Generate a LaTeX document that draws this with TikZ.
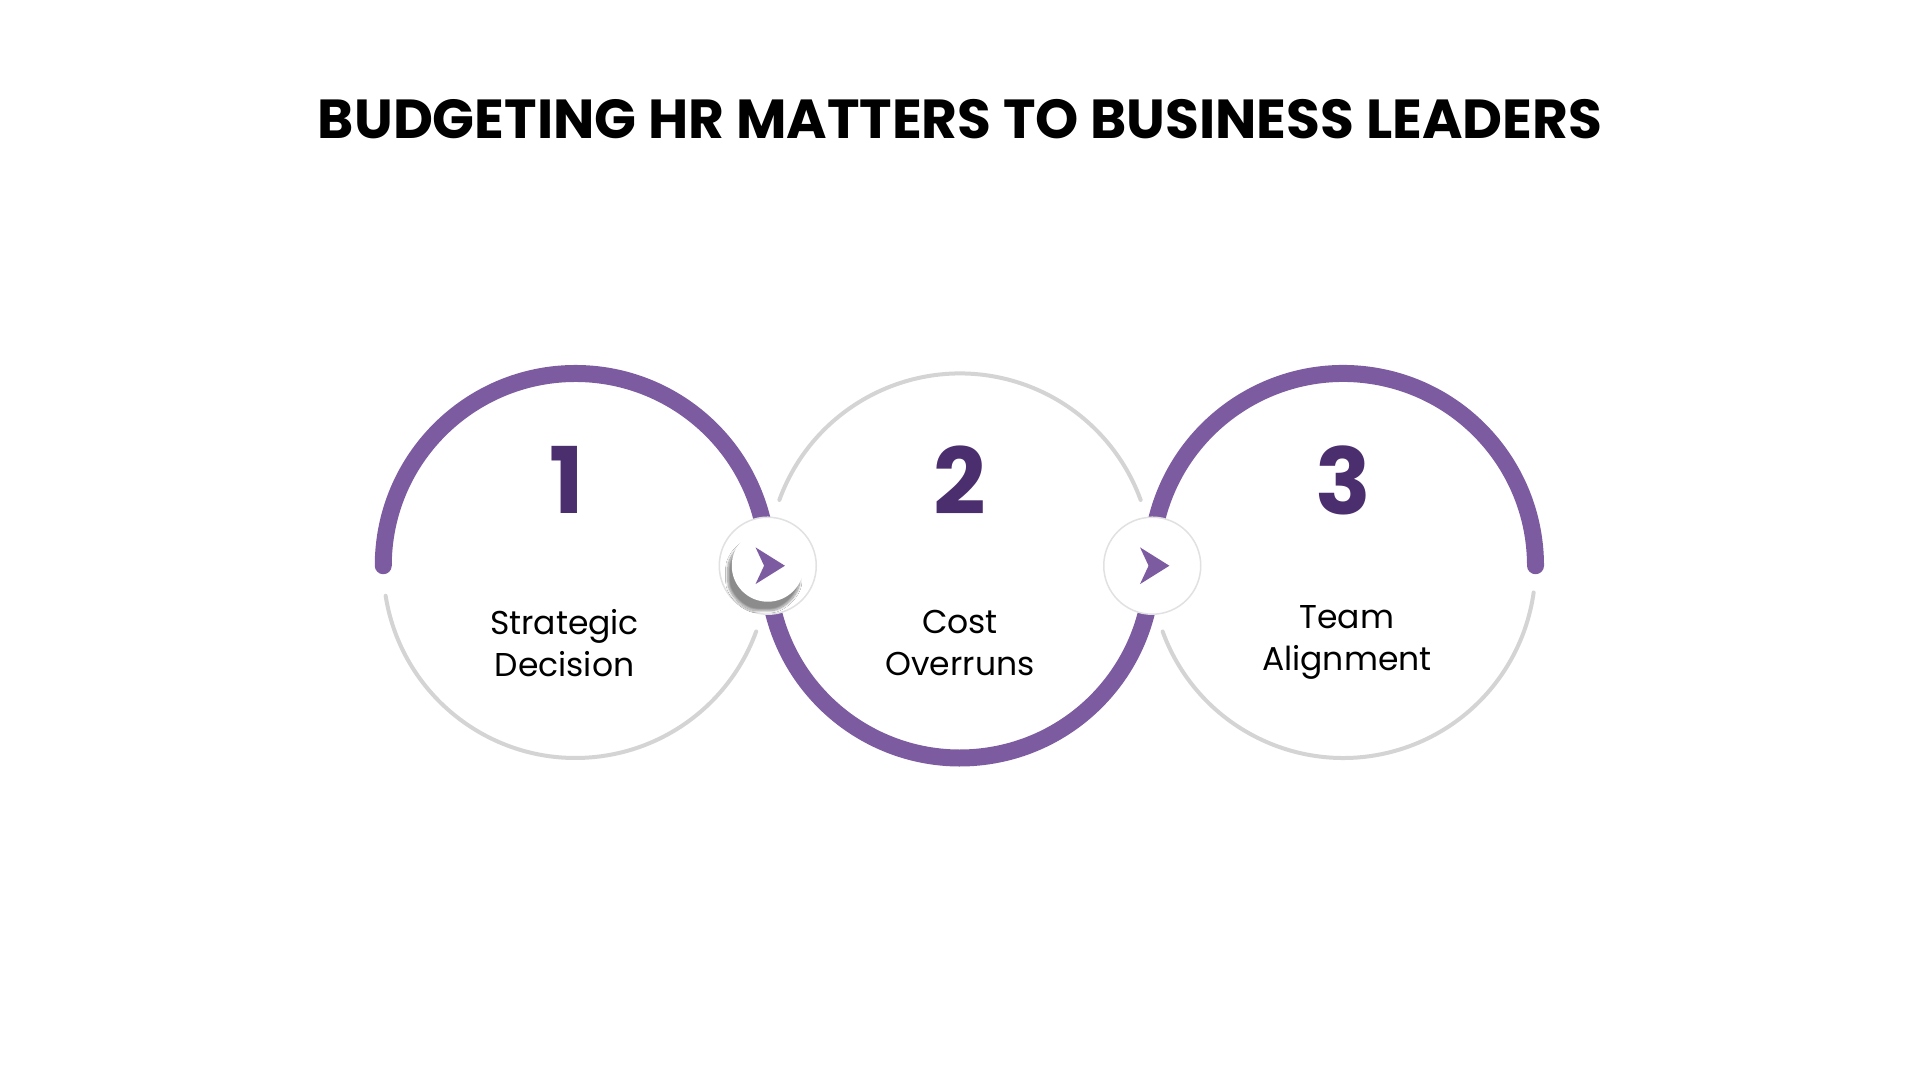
\documentclass[tikz,border=0pt]{standalone}
\usepackage{fontspec}
\setmainfont{Poppins}
\usetikzlibrary{shadows.blur}
\definecolor{pur}{HTML}{7D5BA0}
\definecolor{dpur}{HTML}{4B2E6E}
\definecolor{gry}{HTML}{D4D4D4}
\tikzset{
 parc/.style={draw=pur,line width=17pt,line cap=round},
 garc/.style={draw=gry,line width=4pt,line cap=round},
 num/.style={font=\bfseries\fontsize{92}{92}\selectfont,text=dpur},
 lbl/.style={font=\fontsize{33}{42}\selectfont,align=center},
 ring/.style={circle,draw=gry!70,line width=1.5pt,minimum size=97pt,fill=white},
 disk/.style={circle,fill=white,minimum size=72pt},
}
\begin{document}
\begin{tikzpicture}[x=1.2245pt,y=-1.2245pt]
\useasboundingbox[fill=white] (0,0) rectangle (1568,882);
\node[font=\bfseries\fontsize{55}{55}\selectfont] (title) at (784,97) {BUDGETING HR MATTERS TO BUSINESS LEADERS};
% circle 1
\draw[parc] (470,462) ++(-180:157) arc[start angle=-180,end angle=-12,radius=157];
\draw[garc] (470,462) ++(-189:157) arc[start angle=-189,end angle=-340,radius=157];
% circle 2
\draw[garc] (784,462) ++(-160:157) arc[start angle=-160,end angle=-20,radius=157];
\draw[parc] (784,462) ++(-190:157) arc[start angle=-190,end angle=-350,radius=157];
% circle 3
\draw[parc] (1097,462) ++(-168:157) arc[start angle=-168,end angle=0,radius=157];
\draw[garc] (1097,462) ++(-200:157) arc[start angle=-200,end angle=-352,radius=157];
% connectors
\node[ring] (c1) at (627,462) {};
\node[disk,blur shadow={shadow blur steps=12,shadow blur extra rounding=6pt,shadow xshift=-4pt,shadow yshift=-9pt,shadow opacity=45}] (d1) at (627,462) {};
\node[ring] (c2) at (941,462) {};
\foreach \c in {c1,c2}{
 \fill[pur] (\c.center) ++(-10,-15) -- ++(24,15) -- ++(-24,15) -- ++(7,-15) -- cycle;
}
% numbers
\node[num] (n1) at (463,392) {1};
\node[num] (n2) at (784,392) {2};
\node[num] (n3) at (1097,392) {3};
% labels
\node[lbl] (l1) at (461,525) {Strategic\\Decision};
\node[lbl] (l2) at (784,525) {Cost\\Overruns};
\node[lbl] (l3) at (1100,525) {Team\\Alignment};
\end{tikzpicture}
\end{document}
